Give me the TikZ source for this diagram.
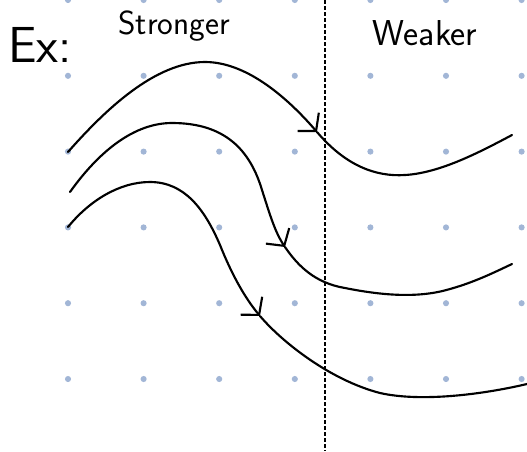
\documentclass[tikz,border=0pt]{standalone}
\usetikzlibrary{arrows.meta}
\definecolor{dotblue}{RGB}{162,182,214}
\tikzset{
  flowline/.style={line width=1.6pt,line cap=round,line join=round},
  flowtip/.style={-{Straight Barb[length=9pt,width=21pt]}},
  gridpt/.style={fill=dotblue},
  handtext/.style={font=\sffamily,inner sep=0pt}
}

\begin{document}
\begin{tikzpicture}[x=0.75pt,y=-0.75pt]
  \useasboundingbox (0,0) rectangle (527,451);
  % dotted paper
  \foreach \i in {0,...,6}
    \foreach \j in {0,...,5}
      \fill[gridpt] (68+75.6*\i,75.8*\j) circle (2.3pt);
  % divider
  \draw[line width=0.8pt,dash pattern=on 3pt off 1.5pt] (325,0) -- (325,451);
  % labels
  \node[handtext,anchor=base west] (ex) at (8,62) {\fontsize{38}{40}\selectfont Ex:};
  \node[handtext,anchor=base] (strong) at (174,34) {\fontsize{25}{28}\selectfont Stronger};
  \node[handtext,anchor=base] (weak) at (425,45) {\fontsize{27}{30}\selectfont Weaker};
  % top curve
  \draw[flowline,flowtip] (68,152) .. controls (105,110) and (155,62) .. (205,62)
    .. controls (245,62) and (285,95) .. (317,132);
  \draw[flowline] (317,132) .. controls (345,165) and (375,177) .. (405,175)
    .. controls (440,173) and (480,152) .. (512,135);
  % middle curve
  \draw[flowline,flowtip] (70,192) .. controls (100,150) and (135,123) .. (172,123)
    .. controls (225,123) and (250,150) .. (262,190)
    .. controls (270,215) and (275,232) .. (285,247);
  \draw[flowline] (285,247) .. controls (298,266) and (315,283) .. (345,288)
    .. controls (385,296) and (420,298) .. (450,289)
    .. controls (475,282) and (495,272) .. (512,264);
  % bottom curve
  \draw[flowline,flowtip] (68,227) .. controls (90,200) and (120,182) .. (150,182)
    .. controls (185,182) and (205,210) .. (220,245)
    .. controls (232,275) and (245,298) .. (260,316);
  \draw[flowline] (260,316) .. controls (282,342) and (330,380) .. (380,393)
    .. controls (420,402) and (480,395) .. (527,384);
\end{tikzpicture}
\end{document}
